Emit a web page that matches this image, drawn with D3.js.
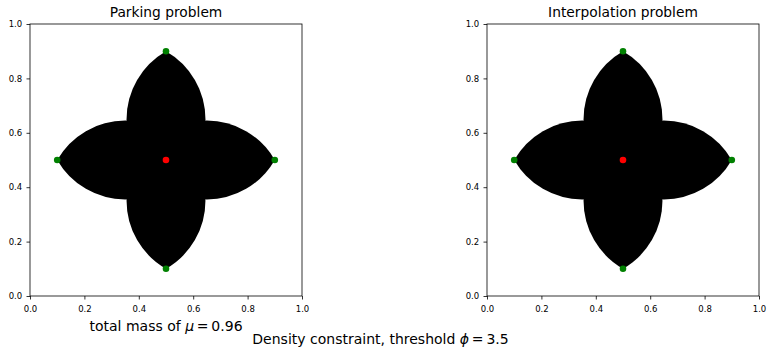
<!DOCTYPE html>
<html><head><meta charset="utf-8">
<script src="https://cdn.jsdelivr.net/npm/d3@7"></script>
<style>
body{margin:0;background:#fff;}
text{font-family:"DejaVu Sans",sans-serif;fill:#000;}
</style></head>
<body><svg id="c" width="773" height="355"></svg>
<script>
const panelTitles = ["Parking problem", "Interpolation problem"];
const tickValues = [0.0, 0.2, 0.4, 0.6, 0.8, 1.0];
const sourceX = [0.5];
const sourceY = [0.5];
const targetX = [0.1, 0.9, 0.5, 0.5];
const targetY = [0.5, 0.5, 0.1, 0.9];
const lobeLength = [0.5, 0.5];          // length of each lens-shaped support, measured from its target
const lobeHalfWidth = [0.145, 0.145];   // max half-width of each lens, data units
const massText = ["total mass of ", "\u03bc", "\u2009=\u20090.96"];
const supText = ["Density constraint, threshold ", "\u03d5", "\u2009=\u20093.5"];

const svg = d3.select("#c");
const panelLeft = [30, 487];
const size = 272, axTop = 24;

panelTitles.forEach((title, p) => {
  const x = d3.scaleLinear().domain([0, 1]).range([panelLeft[p], panelLeft[p] + size]);
  const y = d3.scaleLinear().domain([0, 1]).range([axTop + size, axTop]);
  const g = svg.append("g");

  // lens lobes from each target toward (and slightly past) the source
  targetX.forEach((tx, i) => {
    const ty = targetY[i];
    const dx = sourceX[0] - tx, dy = sourceY[0] - ty;
    const dl = Math.hypot(dx, dy);
    const ex = tx + dx / dl * lobeLength[p], ey = ty + dy / dl * lobeLength[p];
    const px = x(tx), py = y(ty), qx = x(ex), qy = y(ey);
    const h = Math.hypot(qx - px, qy - py) / 2;
    const wp = Math.abs(x(lobeHalfWidth[p]) - x(0));
    const R = (h * h + wp * wp) / (2 * wp);
    g.append("path")
      .attr("d", `M${px},${py} A${R},${R} 0 0 1 ${qx},${qy} A${R},${R} 0 0 1 ${px},${py} Z`)
      .attr("fill", "#000");
  });

  // axes
  const xa = g.append("g").attr("transform", `translate(0,${axTop + size})`)
    .call(d3.axisBottom(x).tickValues(tickValues).tickFormat(d3.format(".1f")).tickSize(3.5).tickPadding(6.3));
  const ya = g.append("g").attr("transform", `translate(${panelLeft[p]},0)`)
    .call(d3.axisLeft(y).tickValues(tickValues).tickFormat(d3.format(".1f")).tickSize(3.5).tickPadding(4.3));
  [xa, ya].forEach(a => {
    a.select(".domain").remove();
    a.selectAll("line").attr("stroke", "#000").attr("stroke-width", 0.8);
    a.selectAll("text").style("font-family", "DejaVu Sans").style("font-size", "8.5px").attr("fill", "#000");
  });
  g.append("rect").attr("x", panelLeft[p]).attr("y", axTop).attr("width", size).attr("height", size)
    .attr("fill", "none").attr("stroke", "#000").attr("stroke-width", 0.8);

  // points
  targetX.forEach((tx, i) => {
    g.append("circle").attr("cx", x(tx)).attr("cy", y(targetY[i])).attr("r", 3.3).attr("fill", "#008000");
  });
  g.append("circle").attr("cx", x(sourceX[0])).attr("cy", y(sourceY[0])).attr("r", 3.3).attr("fill", "#ff0000");

  g.append("text").attr("x", panelLeft[p] + size / 2).attr("y", axTop - 6.7)
    .attr("text-anchor", "middle").style("font-size", "13.8px").text(title);
});

function mathText(parts, xPos, yPos, fs) {
  const t = svg.append("text").attr("x", xPos).attr("y", yPos).attr("text-anchor", "middle")
    .style("font-size", fs + "px");
  t.append("tspan").text(parts[0]);
  t.append("tspan").style("font-style", "italic").text(parts[1]);
  t.append("tspan").text(parts[2]);
}
mathText(massText, 166, 330.5, 14);
mathText(supText, 380.5, 344, 14);
</script></body></html>
